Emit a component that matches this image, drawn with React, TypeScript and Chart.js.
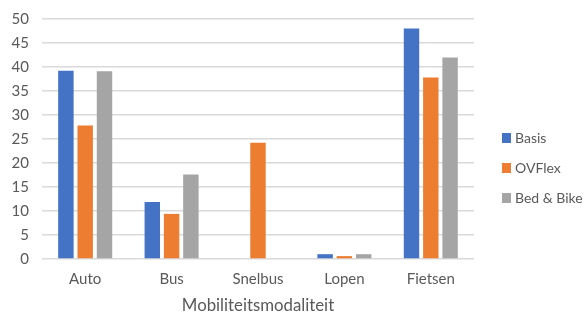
import React, { useEffect, useRef } from "react";
import { Chart, registerables } from "chart.js";

Chart.register(...registerables);

const categories = ["Auto", "Bus", "Snelbus", "Lopen", "Fietsen"];
const basis = [39.2, 11.9, 0, 1.0, 48.0];
const ovflex = [27.8, 9.4, 24.2, 0.6, 37.8];
const bedBike = [39.1, 17.6, 0, 1.0, 42.0];
const seriesNames = ["Basis", "OVFlex", "Bed & Bike"];
const seriesColors = ["#4472C4", "#ED7D31", "#A5A5A5"];
const axisTitle = "Mobiliteitsmodaliteit";

const FONT = "Lato, 'Open Sans', sans-serif";
const TEXT = "#595959";

const sideLegend = {
  id: "sideLegend",
  afterDraw(chart: any) {
    const { ctx, chartArea } = chart;
    ctx.save();
    ctx.font = `14px ${FONT}`;
    ctx.textBaseline = "middle";
    ctx.textAlign = "left";
    chart.data.datasets.forEach((ds: any, i: number) => {
      const y = chartArea.top + 119 + i * 30;
      const x = chartArea.right + 28;
      ctx.fillStyle = ds.backgroundColor;
      ctx.fillRect(x, y - 5, 9, 10);
      ctx.fillStyle = TEXT;
      ctx.fillText(ds.label, x + 13, y);
    });
    ctx.restore();
  },
};

export default function App() {
  const ref = useRef<HTMLCanvasElement | null>(null);
  useEffect(() => {
    if (!ref.current) return;
    const chart = new Chart(ref.current, {
      type: "bar",
      data: {
        labels: categories,
        datasets: [
          { label: seriesNames[0], data: basis, backgroundColor: seriesColors[0] },
          { label: seriesNames[1], data: ovflex, backgroundColor: seriesColors[1] },
          { label: seriesNames[2], data: bedBike, backgroundColor: seriesColors[2] },
        ],
      },
      plugins: [sideLegend],
      options: {
        animation: false,
        responsive: false,
        maintainAspectRatio: false,
        layout: { padding: { top: 19, left: 0, right: 113, bottom: 0 } },
        datasets: { bar: { categoryPercentage: 0.67, barPercentage: 0.8 } },
        plugins: {
          tooltip: { enabled: false },
          legend: { display: false },
        },
        scales: {
          x: {
            grid: { display: false, drawTicks: false, tickLength: 0 },
            border: { display: false },
            ticks: { color: TEXT, font: { family: FONT, size: 15 }, padding: 11 },
            title: {
              display: true,
              text: axisTitle,
              color: TEXT,
              font: { family: FONT, size: 16.8, lineHeight: "14px" },
              padding: { top: 0, bottom: 0 },
            },
          },
          y: {
            min: 0,
            max: 50,
            afterFit: (scale: any) => {
              scale.width = 42;
              scale.paddingTop = 0;
            },
            ticks: { stepSize: 5, color: TEXT, font: { family: FONT, size: 15 }, padding: 13 },
            grid: { color: "#D9D9D9", lineWidth: 1.5, drawTicks: false },
            border: { display: false },
          },
        },
      },
    });
    return () => chart.destroy();
  }, []);
  return (
    <div style={{ position: "fixed", left: 0, top: 0, width: 587, height: 313, background: "#fff" }}>
      <canvas ref={ref} width={587} height={313} />
    </div>
  );
}
